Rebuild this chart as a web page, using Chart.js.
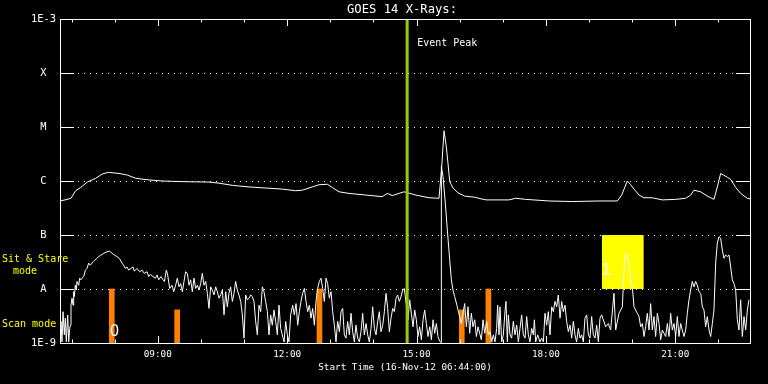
<!DOCTYPE html>
<html>
<head>
<meta charset="utf-8">
<script src="https://cdn.jsdelivr.net/npm/chart.js@4.4.1/dist/chart.umd.min.js"></script>
<style>
html,body{margin:0;padding:0;background:#000;}
#wrap{width:768px;height:384px;}
</style>
</head>
<body>
<div id="wrap"><canvas id="c" width="768" height="384"></canvas></div>
<script>
// ---- Data (time = minutes after 16-Nov-12 06:44:00 UT) ----
const chartTitle = 'GOES 14 X-Rays:';
const startLabel = 'Start Time (16-Nov-12 06:44:00)';
const startClock = [6, 44];
const spanMinutes = 960;
const hourTicks = [16, 76, 136, 196, 256, 316, 376, 436, 496, 556, 616, 676, 736, 796, 856, 916];
const yTickValues = [1e-9, 1e-8, 1e-7, 1e-6, 1e-5, 1e-4, 1e-3];
const yTickLabels = ['1E-9', 'A', 'B', 'C', 'M', 'X', '1E-3'];

// 1-8 A channel, log10(W/m^2)
const longT = [0,7.0,15.3,21.8,28.8,38.0,49.7,58.9,67.2,82.1,93.6,105.3,123.8,142.3,165.6,207.3,221.2,239.7,263.0,286.2,309.3,327.9,337.1,351.0,360.3,371.9,378.9,388.2,402.1,425.3,448.4,455.4,462.3,478.6,494.9,513.4,527.3,530.8,534.3,537.5,539.8,542.2,546.8,553.7,563.1,577.0,585.7,592.7,624.7,634.0,647.9,680.3,712.8,749.9,775.4,781.5,789.3,794.0,798.6,805.6,812.5,824.1,838.0,856.6,870.5,877.5,882.1,891.4,900.6,909.9,914.5,919.2,928.4,933.1,940.1,947.0,956.2,960];
const longLog = [-6.37,-6.35,-6.32,-6.18,-6.12,-6.02,-5.95,-5.87,-5.84,-5.86,-5.89,-5.95,-5.98,-6.00,-6.01,-6.02,-6.04,-6.08,-6.11,-6.13,-6.15,-6.18,-6.17,-6.11,-6.07,-6.06,-6.12,-6.20,-6.23,-6.26,-6.29,-6.23,-6.27,-6.20,-6.26,-6.31,-6.32,-5.80,-5.07,-5.37,-5.67,-6.01,-6.13,-6.22,-6.28,-6.30,-6.33,-6.35,-6.35,-6.32,-6.34,-6.37,-6.38,-6.37,-6.37,-6.26,-6.00,-6.07,-6.15,-6.26,-6.31,-6.31,-6.35,-6.34,-6.32,-6.26,-6.17,-6.20,-6.28,-6.34,-6.11,-5.86,-5.93,-5.97,-6.12,-6.23,-6.32,-6.33];

// 0.5-4 A channel, log10(W/m^2)
const shortT = [
0,1.4,2.8,4.2,6.0,7.4,8.8,10.7,12.1,13.5,14.4,15.3,16.7,18.1,19.0,20.0,21.3,22.7,23.7,26.0,27.4,29.2,30.6,33.0,35.3,37.6,39.9,42.2,44.5,46.8,50.6,53.8,56.1,58.4,60.8,65.4,69.1,72.4,75.6,79.3,83.0,86.3,88.6,90.9,93.2,95.5,98.8,101.6,103.4,107.1,110.9,114.1,117.3,121.1,123.4,125.7,129.4,132.7,135.0,137.3,140.5,143.3,145.2,148.0,149.8,152.6,155.8,158.2,
160.9,163.2,165.6,167.9,170.2,172.5,174.8,177.2,179.5,181.8,184.1,186.4,188.7,191.1,193.4,195.7,198.0,200.3,202.7,205.0,207.3,209.6,211.9,214.3,216.6,218.9,221.2,223.5,225.9,228.2,230.5,232.8,235.1,237.4,239.8,242.1,244.4,246.7,249.0,251.4,253.7,256.0,258.3,260.6,263.0,265.3,267.6,269.9,272.2,274.6,276.9,279.2,281.5,283.8,286.1,288.5,290.8,293.1,295.4,297.7,300.1,302.4,304.7,307.0,309.3,311.7,314.0,316.3,318.6,320.9,
323.7,326.0,328.4,330.7,333.0,335.3,337.6,340.0,342.3,344.6,346.9,349.2,351.5,353.9,356.2,358.5,360.8,363.1,365.5,367.8,370.1,372.4,374.7,377.1,379.4,381.7,384.0,386.3,388.7,391.0,393.3,395.6,397.9,400.2,402.6,404.9,407.2,409.5,411.8,414.2,416.5,418.8,421.1,423.4,425.8,428.1,430.4,432.7,435.0,437.4,439.7,442.0,444.3,446.6,449.0,451.3,453.6,455.9,458.2,460.5,462.9,465.2,467.5,469.8,472.1,474.5,476.8,479.1,
484.2,486.5,488.8,491.2,493.5,495.8,498.1,500.4,502.8,505.1,507.4,509.7,512.0,514.4,516.7,519.0,521.3,523.6,525.9,528.3,530.1,530.6,532.9,536.1,538.9,542.2,544.5,546.8,549.1,552.8,553.8,558.4,563.0,565.4,567.7,570.0,572.3,574.6,577.0,579.3,581.6,583.9,586.2,588.6,590.9,
593.6,595.9,598.3,600.6,602.9,605.2,607.5,608.9,610.8,612.2,614.5,616.8,619.1,620.5,622.4,623.8,626.1,628.4,630.7,633.0,635.4,637.7,640.0,642.3,644.6,647.0,649.3,651.6,653.9,656.2,658.6,660.0,661.8,664.6,667.8,670.1,672.5,674.8,677.1,679.4,681.7,684.1,686.4,688.7,691.0,693.3,695.7,698.0,700.3,702.6,704.9,707.3,709.6,711.9,714.2,716.5,718.8,721.2,723.5,725.8,728.1,730.4,732.8,735.1,737.4,739.7,742.0,744.4,746.7,749.0,751.3,753.6,
759.2,762.9,766.1,770.8,773.1,777.7,782.4,784.7,787.0,789.3,791.6,794.0,796.3,798.6,800.9,803.2,805.6,807.9,810.2,812.5,814.8,817.1,819.5,821.8,824.1,826.4,828.7,831.1,833.4,835.7,838.0,842.7,845.0,847.3,849.6,851.9,854.3,856.6,858.9,861.2,863.5,865.8,868.2,870.5,872.8,875.1,877.4,879.8,882.1,884.4,886.7,889.0,891.4,893.7,896.0,898.3,900.6,903.0,905.3,907.6,909.9,912.2,914.5,916.9,919.2,921.5,923.8,926.1,928.5,930.8,933.1,935.4,937.7,940.1,942.4,944.7,947.0,949.3,951.7,954.0,956.3,958.6];
const shortLog = [
-8.85,-8.60,-8.98,-8.42,-8.85,-8.54,-8.98,-8.48,-8.98,-8.73,-8.67,-8.30,-8.17,-8.30,-8.05,-8.14,-7.93,-8.02,-7.86,-7.93,-7.80,-7.83,-7.80,-7.77,-7.65,-7.62,-7.52,-7.56,-7.52,-7.49,-7.44,-7.40,-7.38,-7.36,-7.34,-7.31,-7.30,-7.34,-7.37,-7.40,-7.44,-7.52,-7.56,-7.62,-7.59,-7.65,-7.62,-7.59,-7.67,-7.62,-7.68,-7.65,-7.71,-7.68,-7.77,-7.73,-7.77,-7.80,-7.74,-7.83,-7.77,-7.83,-7.86,-7.65,-7.74,-7.99,-7.93,-8.05,
-7.93,-7.80,-7.96,-7.90,-8.05,-7.86,-7.68,-7.71,-7.93,-7.83,-8.05,-7.80,-7.99,-7.93,-8.02,-7.90,-7.71,-7.93,-7.86,-8.08,-8.36,-7.96,-8.02,-8.11,-7.96,-8.05,-8.17,-8.11,-8.02,-8.48,-8.05,-8.33,-8.08,-7.96,-8.23,-8.08,-7.86,-8.02,-8.11,-8.23,-8.48,-8.91,-8.11,-8.20,-8.17,-8.11,-8.14,-8.23,-8.60,-8.85,-8.30,-8.42,-7.96,-8.05,-8.23,-8.42,-8.85,-8.48,-8.67,-8.39,-8.60,-8.85,-8.30,-8.73,-8.85,-8.98,-8.60,-8.85,-8.98,-8.48,
-8.30,-8.48,-8.27,-8.67,-8.42,-8.23,-8.08,-7.99,-8.23,-8.42,-8.30,-8.54,-8.36,-8.67,-8.23,-7.99,-7.86,-7.80,-7.99,-8.23,-7.80,-7.90,-8.17,-8.05,-8.42,-8.67,-8.98,-8.60,-8.79,-8.42,-8.36,-8.85,-8.91,-8.60,-8.85,-8.45,-8.79,-8.98,-8.67,-8.91,-8.98,-8.79,-8.45,-8.85,-8.64,-8.85,-8.98,-8.73,-8.33,-8.73,-8.85,-8.60,-8.42,-8.79,-8.67,-8.42,-8.08,-8.36,-8.79,-8.54,-8.36,-8.42,-8.17,-8.11,-8.23,-8.14,-8.02,-7.99,
-8.57,-8.20,-8.45,-8.70,-8.39,-8.57,-8.88,-8.70,-8.94,-8.57,-8.39,-8.64,-8.88,-8.70,-8.94,-8.57,-8.82,-8.64,-8.88,-8.97,-8.99,-5.73,-5.92,-6.41,-6.91,-7.46,-7.83,-8.02,-8.14,-8.33,-8.39,-8.64,-8.27,-8.70,-8.33,-8.82,-8.45,-8.70,-8.57,-8.88,-8.70,-8.82,-8.94,-8.57,-8.82,
-8.60,-8.85,-8.79,-8.98,-8.85,-8.98,-8.73,-8.30,-8.85,-8.33,-8.98,-8.85,-8.42,-8.23,-8.98,-8.48,-8.85,-8.91,-8.60,-8.85,-8.67,-8.98,-8.73,-8.48,-8.85,-8.91,-8.51,-8.85,-8.98,-8.73,-8.85,-8.57,-8.98,-8.85,-8.98,-8.91,-8.98,-8.45,-8.67,-8.42,-8.85,-8.33,-8.42,-8.23,-8.33,-8.11,-8.54,-8.23,-8.42,-8.30,-8.60,-8.79,-8.67,-8.91,-8.60,-8.85,-8.98,-8.73,-8.91,-8.85,-8.98,-8.54,-8.48,-8.85,-8.91,-8.51,-8.85,-8.91,-8.67,-8.98,-8.54,-8.48,
-8.70,-8.64,-8.76,-8.08,-8.76,-8.45,-8.33,-7.65,-7.34,-7.37,-7.59,-7.83,-7.96,-8.33,-8.39,-8.45,-8.51,-8.70,-8.64,-8.88,-8.70,-8.45,-8.76,-8.27,-8.76,-8.51,-8.88,-8.45,-8.64,-8.94,-8.76,-8.88,-8.64,-8.88,-8.45,-8.76,-8.64,-8.88,-8.51,-8.88,-8.64,-8.76,-8.88,-8.76,-8.45,-8.20,-8.02,-7.86,-7.96,-7.86,-7.93,-8.05,-8.08,-8.33,-8.39,-8.70,-8.51,-8.76,-8.88,-8.64,-8.39,-7.52,-7.15,-7.03,-7.06,-7.28,-7.43,-7.37,-7.40,-7.37,-7.59,-7.83,-7.90,-8.02,-8.57,-8.76,-8.20,-8.88,-8.51,-8.76,-8.39,-8.20];

// Scan-mode markers (orange) and Sit & Stare interval (yellow)
const scanTimes = [72, 163, 361, 559, 596];
const scanTopFlux = [1e-8, 4.1e-9, 1e-8, 4.1e-9, 1e-8];
const sitStareTimes = [754, 812];
const sitStareFlux = [1e-8, 1e-7];
const eventPeakTime = 483;
const markTimes = [76, 760];
const markFlux = [1.6e-9, 2.1e-8];
const markTexts = ['0', '1'];

// ---- Build datasets ----
const toPts = (T, L) => T.slice(0, Math.min(T.length, L.length)).map((t, i) => ({x: t, y: Math.pow(10, L[i])}));
const longData = toPts(longT, longLog);
const shortData = toPts(shortT, shortLog);
const scanData = scanTimes.map((t, i) => ({x: t, y: [1e-9, scanTopFlux[i]]}));
const peakData = [{x: eventPeakTime, y: yTickValues[0]}, {x: eventPeakTime, y: yTickValues[yTickValues.length - 1]}];

function clockLabel(m) {
  const tot = startClock[0] * 60 + startClock[1] + m;
  const h = Math.floor(tot / 60) % 24, mm = Math.round(tot % 60);
  return String(h).padStart(2, '0') + ':' + String(mm).padStart(2, '0');
}

const MONO = "'DejaVu Sans Mono', monospace";

const decor = {
  id: 'decor',
  beforeDatasetsDraw(chart) {
    const {ctx, chartArea: a, scales: {x, y}} = chart;
    ctx.save();
    ctx.strokeStyle = '#ffffff';
    ctx.lineWidth = 1;
    ctx.setLineDash([1, 5]);
    yTickValues.slice(1, -1).forEach(v => {
      const py = Math.round(y.getPixelForValue(v)) + 0.5;
      ctx.beginPath(); ctx.moveTo(a.left, py); ctx.lineTo(a.right, py); ctx.stroke();
    });
    ctx.setLineDash([]);
    const x0 = x.getPixelForValue(sitStareTimes[0]), x1 = x.getPixelForValue(sitStareTimes[1]);
    const yTop = y.getPixelForValue(sitStareFlux[1]), yBot = y.getPixelForValue(sitStareFlux[0]);
    ctx.fillStyle = '#ffff00';
    ctx.fillRect(x0, yTop, x1 - x0, yBot - yTop);
    ctx.restore();
  },
  afterDatasetsDraw(chart) {
    const {ctx, chartArea: a, scales: {x, y}} = chart;
    ctx.save();
    ctx.strokeStyle = '#ffffff';
    ctx.lineWidth = 1;
    ctx.strokeRect(a.left + 0.5, a.top + 0.5, a.right - a.left, a.bottom - a.top);
    ctx.beginPath();
    yTickValues.forEach(v => {
      const py = Math.round(y.getPixelForValue(v)) + 0.5;
      ctx.moveTo(a.left, py); ctx.lineTo(a.left + 14, py);
      ctx.moveTo(a.right - 14, py); ctx.lineTo(a.right + 1, py);
    });
    hourTicks.forEach(t => {
      const px = Math.round(x.getPixelForValue(t)) + 0.5;
      const major = clockLabel(t).slice(0, 2) % 3 === 0;
      const len = major ? 7 : 3.5;
      ctx.moveTo(px, a.bottom); ctx.lineTo(px, a.bottom - len);
      ctx.moveTo(px, a.top); ctx.lineTo(px, a.top + len);
    });
    ctx.stroke();

    ctx.fillStyle = '#ffffff';
    ctx.textBaseline = 'middle';
    ctx.textAlign = 'center';
    ctx.font = "12.2px " + MONO;
    ctx.fillText(chartTitle, 402, 10);
    ctx.textAlign = 'left';
    ctx.font = "10px " + MONO;
    ctx.fillText('Event Peak', x.getPixelForValue(eventPeakTime) + 10, 43);

    ctx.font = "15px 'DejaVu Sans', sans-serif";
    ctx.textAlign = 'center';
    markTexts.forEach((s, i) => {
      ctx.fillText(s, x.getPixelForValue(markTimes[i]), y.getPixelForValue(markFlux[i]));
    });

    ctx.fillStyle = '#ffff00';
    ctx.textAlign = 'left';
    ctx.font = "10px " + MONO;
    ctx.fillText('Sit & Stare', 2, 259);
    ctx.fillText('mode', 13, 271);
    ctx.fillText('Scan mode', 2, 324);
    ctx.restore();
  }
};

new Chart(document.getElementById('c'), {
  type: 'line',
  data: {
    datasets: [
      {type: 'line', label: 'Event Peak', data: peakData, borderColor: '#99cc00', borderWidth: 3, pointRadius: 0, order: 0},
      {type: 'line', label: '0.5-4.0 A', data: shortData, borderColor: '#ffffff', borderWidth: 1, pointRadius: 0, tension: 0, order: 1},
      {type: 'line', label: '1.0-8.0 A', data: longData, borderColor: '#ffffff', borderWidth: 1, pointRadius: 0, tension: 0, order: 1},
      {type: 'bar', label: 'Scan mode', data: scanData, backgroundColor: '#ff8000', borderWidth: 0, barThickness: 5, grouped: false, order: 3}
    ]
  },
  options: {
    responsive: false,
    animation: false,
    devicePixelRatio: 1,
    layout: {padding: {top: 19, right: 18, left: 0, bottom: 0}},
    plugins: {legend: {display: false}, tooltip: {enabled: false}, title: {display: false}},
    scales: {
      x: {
        type: 'linear', min: 0, max: spanMinutes, offset: false,
        afterBuildTicks: s => { s.ticks = hourTicks.map(v => ({value: v})); },
        afterFit: s => { s.height = 41; },
        grid: {display: false, drawTicks: false, offset: false},
        border: {display: false},
        ticks: {
          color: '#ffffff', padding: 6, maxRotation: 0, autoSkip: false,
          font: {family: MONO, size: 9.3},
          callback: v => { const s = clockLabel(v); return (+s.slice(0, 2)) % 3 === 0 ? s : ''; }
        },
        title: {display: true, text: startLabel, color: '#ffffff', font: {family: MONO, size: 9.3}, padding: {top: 0, bottom: 11}}
      },
      y: {
        type: 'logarithmic', min: yTickValues[0], max: yTickValues[yTickValues.length - 1],
        afterBuildTicks: s => { s.ticks = yTickValues.map(v => ({value: v})); },
        afterFit: s => { s.width = 60; },
        grid: {display: false, drawTicks: false},
        border: {display: false},
        ticks: {
          color: '#ffffff', crossAlign: 'center', padding: 4, autoSkip: false,
          font: {family: MONO, size: 10.4},
          callback: v => { const i = yTickValues.findIndex(t => Math.abs(Math.log10(t) - Math.log10(v)) < 1e-6); return i >= 0 ? yTickLabels[i] : ''; }
        }
      }
    }
  },
  plugins: [decor]
});
</script>
</body>
</html>
